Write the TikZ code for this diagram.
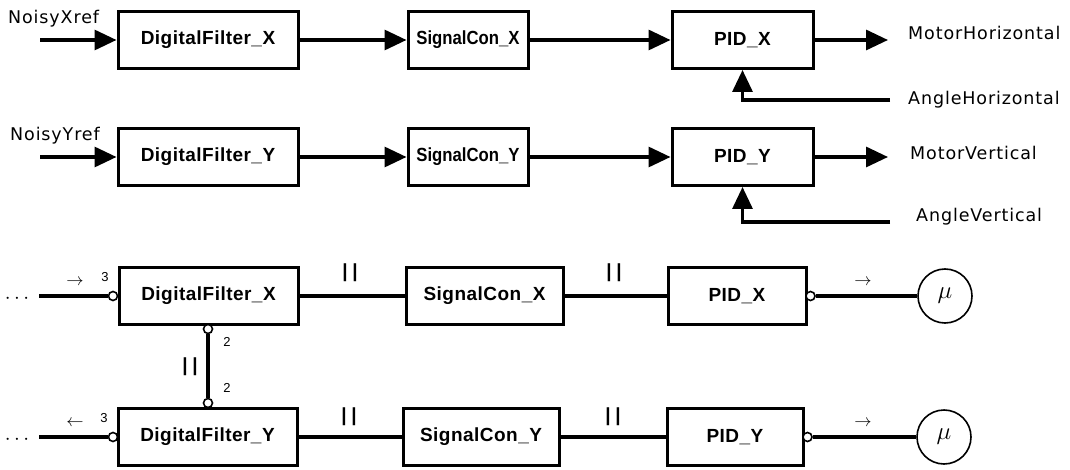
\documentclass[tikz,border=0pt]{standalone}
\usepackage{fontspec}
\usetikzlibrary{arrows.meta}
\newfontfamily\boxfont[LetterSpace=2.5]{Liberation Sans}
\newfontfamily\narrowfont[FakeStretch=0.88]{Liberation Sans}
\newfontfamily\lblfont[LetterSpace=5]{DejaVu Sans}
\newfontfamily\barfont[LetterSpace=24]{Liberation Sans}
\newfontfamily\numfont{Liberation Sans}
\begin{document}
\begin{tikzpicture}[x=1pt,y=-1pt,
  blk/.style={draw, line width=3pt, inner sep=0pt, minimum height=57pt,
    font=\boxfont\bfseries\fontsize{19}{19}\selectfont},
  narrowblk/.style={blk, font=\narrowfont\bfseries\fontsize{19}{19}\selectfont},
  lbl/.style={font=\lblfont\fontsize{17.5}{17.5}\selectfont, inner sep=0pt, anchor=west},
  arr/.style={line width=3.2pt, -{Triangle[length=22pt,width=20pt]}},
  conn/.style={line width=3.2pt},
  port/.style={circle, draw, fill=white, line width=1.6pt, inner sep=0pt, minimum size=9pt},
  motor/.style={circle, draw, line width=1.6pt, minimum size=54pt, inner sep=0pt,
    font=\fontsize{24}{24}\selectfont},
  bars/.style={font=\barfont\bfseries\fontsize{19}{19}\selectfont, inner sep=0pt},
  num/.style={font=\numfont\fontsize{13}{13}\selectfont, inner sep=0pt},
  dir/.style={font=\fontsize{18}{18}\selectfont, inner sep=0pt},
  dots/.style={font=\fontsize{20}{20}\selectfont, inner sep=0pt}]

\fill[white] (0,0) rectangle (1070,470);
\useasboundingbox (0,0) rectangle (1070,470);

% ---- horizontal axis chain ----
\node[blk, minimum width=180pt] (dfx) at (208,40) {DigitalFilter\_X};
\node[narrowblk, minimum width=120pt] (scx) at (468,40) {SignalCon\_X};
\node[blk, minimum width=141pt] (pidx) at (742.5,40) {PID\_X};
\node[lbl] (nx) at (8,19) {NoisyXref};
\node[lbl] (mhl) at (908,33) {MotorHorizontal};
\node[lbl] (ahl) at (908,100) {AngleHorizontal};
\coordinate (inx) at (40,40);
\coordinate (outx) at (888,40);
\coordinate (fbx) at (890,100);
\draw[arr] (inx) -- (dfx);
\draw[arr] (dfx) -- (scx);
\draw[arr] (scx) -- (pidx);
\draw[arr] (pidx) -- (outx);
\draw[arr] (fbx) -| (pidx.south);

% ---- vertical axis chain ----
\node[blk, minimum width=180pt] (dfy) at (208,157) {DigitalFilter\_Y};
\node[narrowblk, minimum width=120pt] (scy) at (468,157) {SignalCon\_Y};
\node[blk, minimum width=141pt] (pidy) at (742.5,157) {PID\_Y};
\node[lbl] (ny) at (10,136) {NoisyYref};
\node[lbl] (mvl) at (910,153) {MotorVertical};
\node[lbl] (avl) at (916,217) {AngleVertical};
\coordinate (iny) at (40,157);
\coordinate (outy) at (888,157);
\coordinate (fby) at (890,222);
\draw[arr] (iny) -- (dfy);
\draw[arr] (dfy) -- (scy);
\draw[arr] (scy) -- (pidy);
\draw[arr] (pidy) -- (outy);
\draw[arr] (fby) -| (pidy.south);

% ---- component view, X ----
\node[blk, minimum width=179pt] (dfx2) at (208.5,296) {DigitalFilter\_X};
\node[blk, minimum width=157pt] (scx2) at (484.5,296) {SignalCon\_X};
\node[blk, minimum width=138pt] (pidx2) at (737,296) {PID\_X};
\node[dots] (dx) at (17,299) {$\cdots$};
\coordinate (lx) at (39,296);
\node[port] (px) at (113,296) {};
\node[port] (pxb) at (208,329) {};
\node[port] (pxo) at (810.5,296) {};
\node[motor] (mux) at (945,296) {$\mu$};
\draw[conn] (lx) -- (px);
\draw[conn] (dfx2) -- (scx2);
\draw[conn] (scx2) -- (pidx2);
\draw[conn] (pxo) -- (mux);
\node[dir] (ax) at (75,282) {$\rightarrow$};
\node[num] (nx3) at (105,277) {3};
\node[bars] (b1) at (350,273) {||};
\node[bars] (b2) at (614,273) {||};
\node[dir] (ox) at (863,282) {$\rightarrow$};

% ---- component view, Y ----
\node[blk, minimum width=179pt] (dfy2) at (207.5,437) {DigitalFilter\_Y};
\node[blk, minimum width=156pt] (scy2) at (481,437) {SignalCon\_Y};
\node[blk, minimum width=136pt] (pidy2) at (735,437) {PID\_Y};
\node[dots] (dy) at (17,440) {$\cdots$};
\coordinate (ly) at (39,437);
\node[port] (py) at (113,437) {};
\node[port] (pyt) at (208,403) {};
\node[port] (pyo) at (807.5,437) {};
\node[motor] (muy) at (944,437) {$\mu$};
\draw[conn] (ly) -- (py);
\draw[conn] (dfy2) -- (scy2);
\draw[conn] (scy2) -- (pidy2);
\draw[conn] (pyo) -- (muy);
\node[dir] (ay) at (75,423) {$\leftarrow$};
\node[num] (ny3) at (104,418) {3};
\node[bars] (b3) at (349,417) {||};
\node[bars] (b4) at (613,417) {||};
\node[dir] (oy) at (863,423) {$\rightarrow$};

% ---- link between the two filters ----
\draw[conn] (pxb) -- (pyt);
\node[num] (n2a) at (227,342) {2};
\node[num] (n2b) at (227,388) {2};
\node[bars] (b5) at (190,367) {||};
\end{tikzpicture}
\end{document}
